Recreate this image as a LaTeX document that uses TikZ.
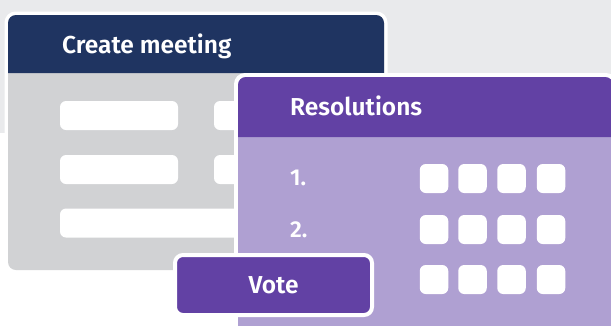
\documentclass[tikz,border=0pt]{standalone}
\usepackage{fontspec}
\setmainfont{Fira Sans}[UprightFont={* SemiBold}]
\definecolor{bggray}{HTML}{E9EAEC}
\definecolor{cardgray}{HTML}{D1D2D4}
\definecolor{navy}{HTML}{1F3461}
\definecolor{violet}{HTML}{6241A4}
\definecolor{lilac}{HTML}{AFA0D2}

\begin{document}
\begin{tikzpicture}[x=1pt, y=-1pt,
	bar/.style={fill=white, rounded corners=6, minimum height=29, inner sep=0},
	box/.style={fill=white, rounded corners=6, minimum width=28.5, minimum height=29, inner sep=0},
	title/.style={text=white, font=\fontsize{24.5}{24.5}\selectfont, anchor=base west, inner sep=0},
	num/.style={text=white, font=\fontsize{23}{23}\selectfont, anchor=base west, inner sep=0},
	button/.style={fill=violet, draw=white, line width=4, rounded corners=8, minimum width=197, minimum height=60, inner sep=0, text=white, font=\fontsize{24.5}{24.5}\selectfont}]
	\clip (0,0) rectangle (611,325);
	\fill [bggray] (0,0) rectangle (611,133);
	
	% meeting card
	\fill [white, rounded corners=11] (4.5,11.5) rectangle (387.5,273.5);
	\fill [cardgray, rounded corners=8] (8,15) rectangle (384,270);
	\fill [navy] (8,73) [rounded corners=8] -- (8,15) -- (384,15) [sharp corners] -- (384,73) -- cycle;
	\node [title] (meet) at (62,53) {Create meeting};
	\node [bar, minimum width=118] (f11) at (119,115.5) {};
	\node [bar, minimum width=116] (f12) at (272,115.5) {};
	\node [bar, minimum width=118] (f21) at (119,169.5) {};
	\node [bar, minimum width=116] (f22) at (272,169.5) {};
	\node [bar, minimum width=270] (f31) at (195,223) {};
	
	% resolutions card
	\fill [white, rounded corners=11] (234,73) rectangle (617,340);
	\fill [lilac, rounded corners=8] (238,77) rectangle (613,340);
	\fill [violet] (238,137) [rounded corners=8] -- (238,77) -- (613,77) [sharp corners] -- (613,137) -- cycle;
	\node [title] (res) at (290,115) {Resolutions};
	\node [num] (n1) at (290,185) {1.};
	\node [num] (n2) at (290,237) {2.};
	\node [box] (b11) at (434,178.5) {};
	\node [box] (b12) at (472.5,178.5) {};
	\node [box] (b13) at (511.5,178.5) {};
	\node [box] (b14) at (551,178.5) {};
	\node [box] (b21) at (434,229.5) {};
	\node [box] (b22) at (472.5,229.5) {};
	\node [box] (b23) at (511.5,229.5) {};
	\node [box] (b24) at (551,229.5) {};
	\node [box] (b31) at (434,279.5) {};
	\node [box] (b32) at (472.5,279.5) {};
	\node [box] (b33) at (511.5,279.5) {};
	\node [box] (b34) at (551,279.5) {};
	
	\node [button] (vote) at (273.5,285) {Vote};
\end{tikzpicture}
\end{document}
